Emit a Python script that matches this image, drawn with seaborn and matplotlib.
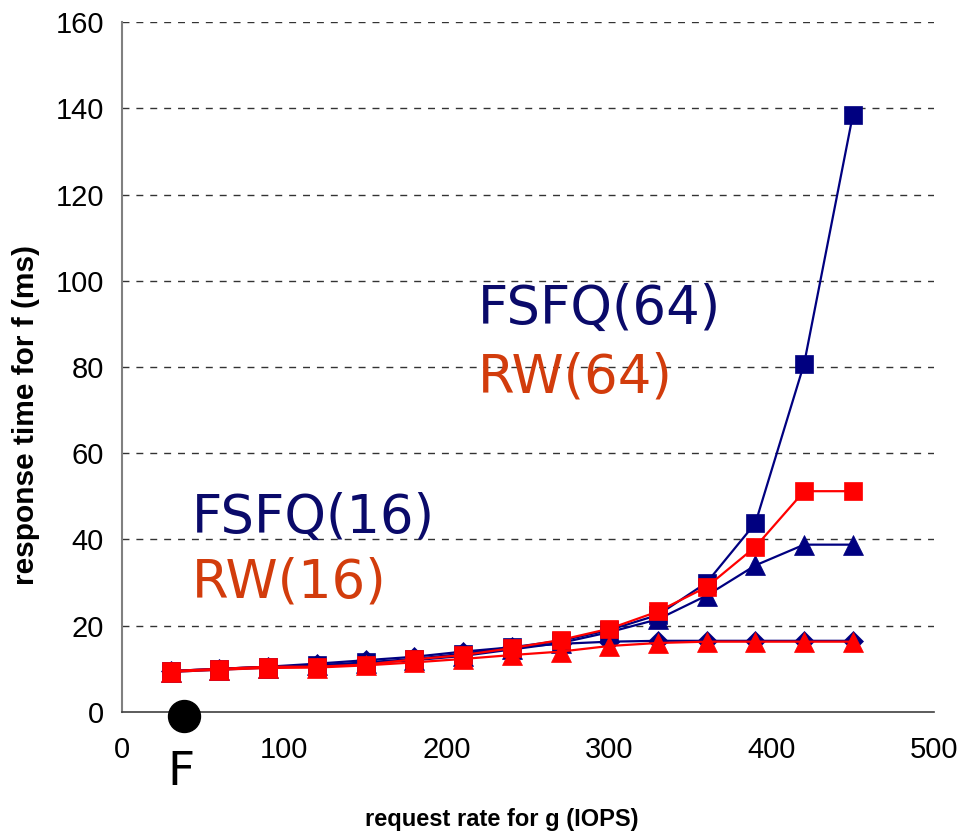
import numpy as np
import pandas as pd
import matplotlib
matplotlib.use("Agg")
import matplotlib.pyplot as plt
import seaborn as sns
from matplotlib import font_manager

# request rate for g (IOPS)
rate = [30, 60, 90, 120, 150, 180, 210, 240, 270, 300, 330, 360, 390, 420, 450]

# response time for f (ms)
fsfq_64 = [9.5, 10.0, 10.5, 10.8, 11.5, 12.3, 13.5, 15.0, 16.5, 19.0, 22.5, 30.0, 43.8, 80.8, 138.5]
rw_64 = [9.5, 10.0, 10.5, 10.5, 11.0, 12.2, 13.2, 14.8, 16.7, 19.3, 23.3, 29.0, 38.3, 51.2, 51.2]
fsfq_16 = [9.3, 9.8, 10.3, 10.8, 11.3, 12.0, 13.0, 14.5, 16.0, 18.5, 21.5, 27.0, 34.0, 38.8, 38.8]
rw_16 = [9.3, 9.8, 10.2, 10.3, 10.8, 11.5, 12.3, 13.2, 14.0, 15.3, 16.0, 16.3, 16.3, 16.3, 16.3]
baseline = [9.5, 10.0, 10.5, 11.2, 12.0, 12.8, 14.0, 15.0, 15.8, 16.3, 16.5, 16.5, 16.5, 16.5, 16.5]

x_ticks = [0, 100, 200, 300, 400, 500]
y_ticks = [0, 20, 40, 60, 80, 100, 120, 140, 160]

NAVY = "#000080"
RED = "#ff0000"
NAVY_TXT = "#0a0a6a"
RED_TXT = "#d23c0c"

sns.set_style("white")
names = {f.name for f in font_manager.fontManager.ttflist}
tick_font = "Liberation Sans Narrow" if "Liberation Sans Narrow" in names else "Liberation Sans"
plt.rcParams["font.family"] = [tick_font, "DejaVu Sans"]
plt.rcParams["text.color"] = "black"
plt.rcParams["axes.labelcolor"] = "black"
plt.rcParams["xtick.color"] = "black"
plt.rcParams["ytick.color"] = "black"

fig = plt.figure(figsize=(9.62, 8.38), dpi=100)
ax = fig.add_axes([0.1268, 0.1504, 0.8442, 0.8233])

series = [
    (fsfq_64, NAVY, "s", 13.5),
    (fsfq_16, NAVY, "^", 14),
    (baseline, NAVY, "D", 10),
    (rw_16, RED, "^", 14),
    (rw_64, RED, "s", 13.5),
]
for vals, col, mk, ms in series:
    sns.lineplot(x=rate, y=vals, ax=ax, color=col, marker=mk, markersize=ms,
                 markeredgecolor=col, markeredgewidth=0.5, linewidth=1.6,
                 clip_on=False)

ax.set_xlim(0, 500)
ax.set_ylim(0, 160)
ax.set_xticks(x_ticks)
ax.set_yticks(y_ticks)
ax.tick_params(axis="both", labelsize=21, length=7, width=1, color="#555555",
               labelcolor="black", direction="out", pad=6)
ax.tick_params(axis="x", pad=10)

for y in y_ticks[1:]:
    ax.axhline(y, color="#333333", linestyle=(0, (5, 5)), linewidth=1, zorder=0)

for s in ["top", "right"]:
    ax.spines[s].set_visible(False)
ax.spines["left"].set_color("#808080")
ax.spines["left"].set_linewidth(1.5)
ax.spines["bottom"].set_color("#404040")
ax.spines["bottom"].set_linewidth(1.2)

ax.set_xlabel("request rate for g (IOPS)", fontsize=17, fontweight="bold")
ax.set_ylabel("response time for f (ms)", fontsize=21.5, fontweight="bold")
ax.xaxis.set_label_coords(0.468, -0.139)
ax.yaxis.set_label_coords(-0.101, 0.43)

# series labels
txt = dict(fontsize=38, family="DejaVu Sans", va="center", ha="left")
ax.text(219, 93.5, "FSFQ(64)", color=NAVY_TXT, **txt)
ax.text(219, 77.5, "RW(64)", color=RED_TXT, **txt)
ax.text(43, 45, "FSFQ(16)", color=NAVY_TXT, **txt)
ax.text(43, 30, "RW(16)", color=RED_TXT, **txt)

# flow marker at the origin
ax.plot([38], [-1], marker="o", markersize=23, color="black", clip_on=False, zorder=10)
ax.text(36, -14, "F", fontsize=34, family="DejaVu Sans", ha="center", va="center")

fig.savefig("out.png", dpi=100)
